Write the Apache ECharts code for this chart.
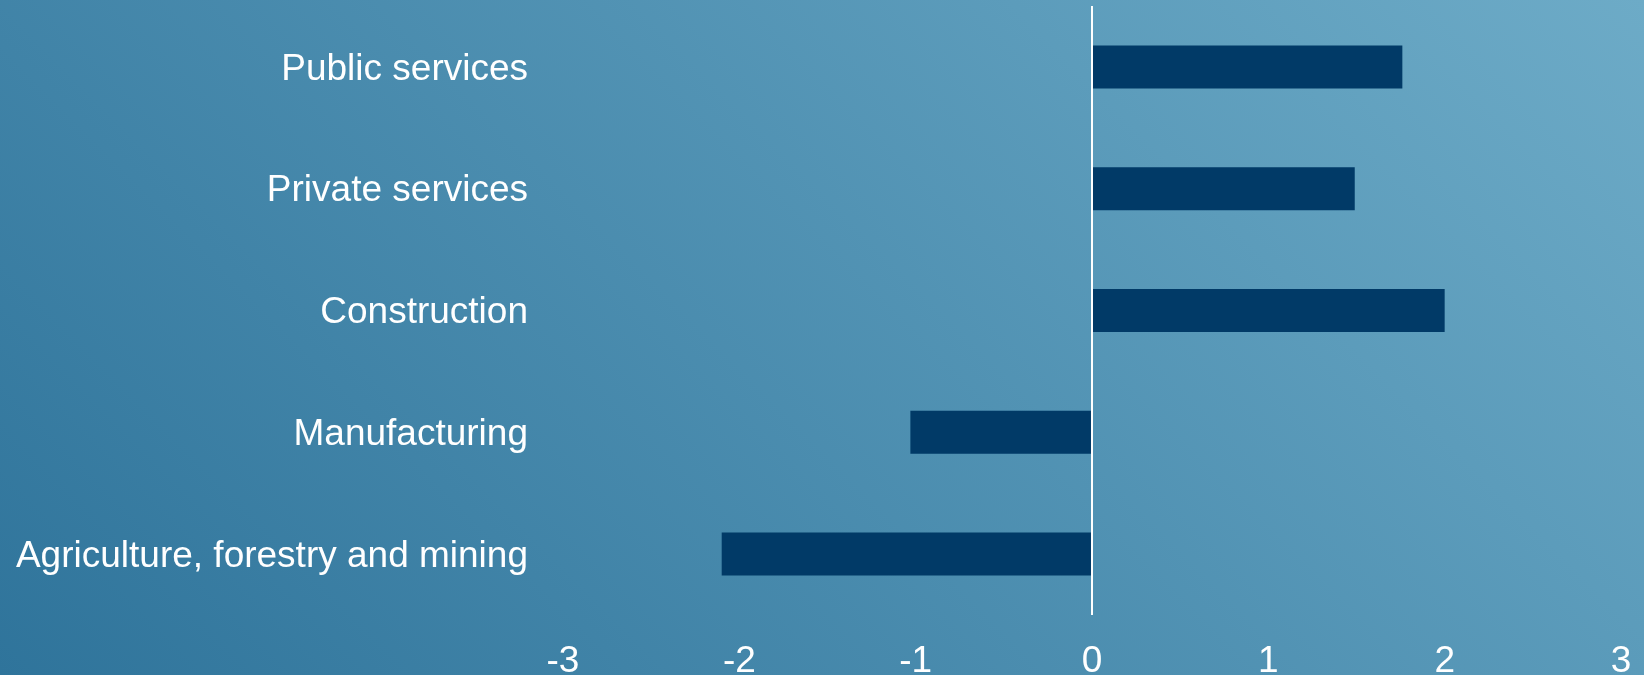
<!DOCTYPE html>
<html>
<head>
<meta charset="utf-8">
<title>Change by sector</title>
<script src="https://cdn.jsdelivr.net/npm/echarts@6/dist/echarts.min.js"></script>
<style>
  html, body { margin: 0; padding: 0; }
  #chart { width: 1644px; height: 675px; }
</style>
</head>
<body>
<div id="chart"></div>
<script>
// Sectors, listed top to bottom
const sectors = [
  'Public services',
  'Private services',
  'Construction',
  'Manufacturing',
  'Agriculture, forestry and mining'
];
// Change per sector
const changes = [1.76, 1.49, 2.0, -1.03, -2.10];
// Value axis range
const axisMin = -3;
const axisMax = 3;
const axisStep = 1;

const chart = echarts.init(document.getElementById('chart'), null, { renderer: 'canvas' });

const font = '"Liberation Sans", Arial, sans-serif';

chart.setOption({
  backgroundColor: {
    type: 'linear',
    global: true,
    x: 0, y: 675, x2: 1159.5, y2: -484.5,
    colorStops: [
      { offset: 0, color: '#2f749b' },
      { offset: 1, color: '#6dabc7' }
    ]
  },
  animation: false,
  grid: {
    left: 563, right: 23, top: 6, bottom: 60,
    containLabel: false,
    outerBoundsMode: 'none'
  },
  xAxis: {
    type: 'value',
    min: axisMin,
    max: axisMax,
    interval: axisStep,
    axisLine: { show: false },
    axisTick: { show: false },
    splitLine: { show: false },
    axisLabel: {
      color: '#ffffff',
      fontSize: 37,
      fontFamily: font,
      margin: 28
    }
  },
  yAxis: {
    type: 'category',
    data: sectors,
    inverse: true,
    axisLine: { show: false },
    axisTick: { show: false },
    splitLine: { show: false },
    axisLabel: {
      color: '#ffffff',
      fontSize: 37,
      fontFamily: font,
      margin: 35,
      // thin line box hung below the tick nudges the text a few px down
      verticalAlign: 'top',
      lineHeight: 5
    }
  },
  series: [{
    type: 'bar',
    data: changes,
    barWidth: 43,
    itemStyle: { color: '#013a67' },
    markLine: {
      silent: true,
      symbol: ['none', 'none'],
      label: { show: false },
      lineStyle: { color: '#ffffff', width: 2, type: 'solid' },
      data: [{ xAxis: 0 }]
    }
  }]
});
</script>
</body>
</html>
